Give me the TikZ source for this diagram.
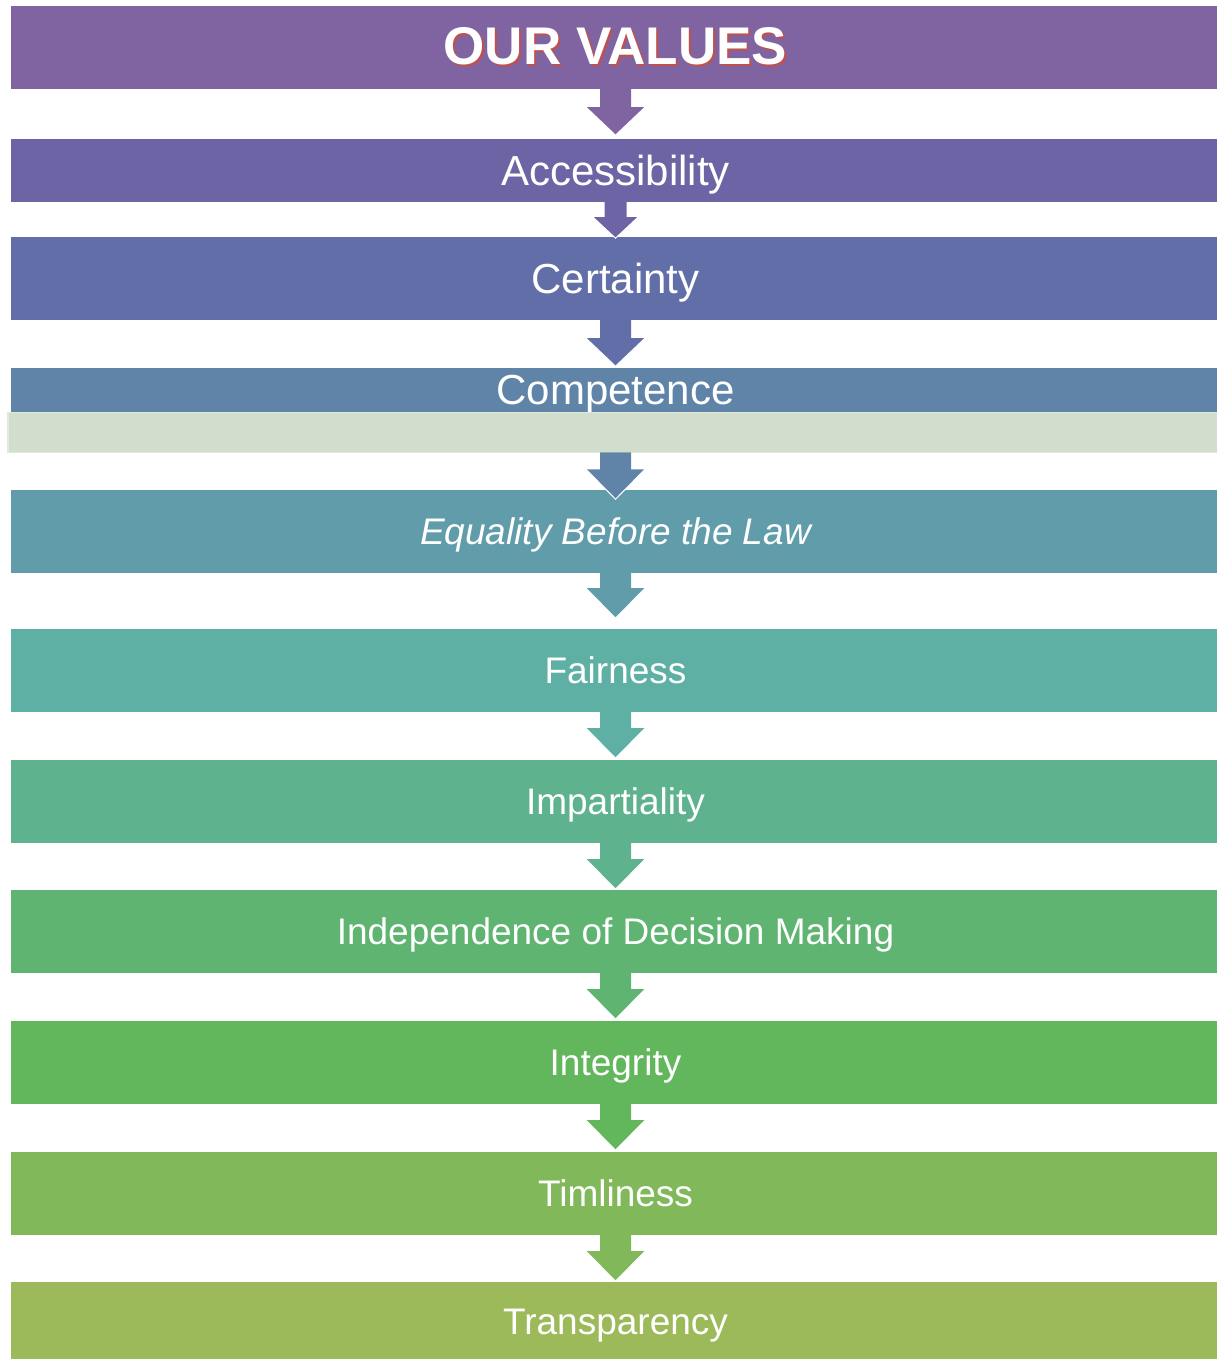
\documentclass[tikz,border=0pt]{standalone}
\usepackage{fontspec}
\setmainfont{Liberation Sans}
\usetikzlibrary{calc}
\definecolor{cT}{HTML}{8064A2}
\definecolor{cA}{HTML}{6C64A4}
\definecolor{cB}{HTML}{626EA8}
\definecolor{cC}{HTML}{6084A8}
\definecolor{cD}{HTML}{609CAA}
\definecolor{cE}{HTML}{5EB0A4}
\definecolor{cF}{HTML}{5EB28E}
\definecolor{cG}{HTML}{5EB470}
\definecolor{cH}{HTML}{62B65C}
\definecolor{cI}{HTML}{80B85A}
\definecolor{cJ}{HTML}{9CBA5A}
\definecolor{bandfill}{HTML}{D2DECD}
\definecolor{bandedge}{HTML}{E2EBDA}
\definecolor{shadowred}{HTML}{C0504D}
% #1 from node, #2 to node, #3 shaft width, #4 head width, #5 shaft length, #6 total length, #7 colour
\newcommand\myvarrow[7]{%
  \fill[#7] ($(#1.south)+({-#3/2},-1)$) -- ($(#1.south)+({-#3/2},#5)$)
    -- ($(#1.south)+({-#4/2},#5)$) -- ($(#1.south)+(0,#6)$)
    -- ($(#1.south)+({#4/2},#5)$) -- ($(#1.south)+({#3/2},#5)$)
    -- ($(#1.south)+({#3/2},-1)$) -- cycle;
  \draw[white, line width=1pt, line join=miter]
    ($(#1.south)+({-#4/2},#5)$) -- ($(#1.south)+(0,#6)$) -- ($(#1.south)+({#4/2},#5)$);
}
\tikzset{
  bar/.style={inner sep=0pt, minimum width=1209pt, text=white, text height=26.5pt, text depth=0pt,
    font=\fontsize{37}{44}\selectfont},
  bigbar/.style={bar, text height=30pt, font=\fontsize{42}{50}\selectfont},
  titletext/.style={inner sep=0pt, text height=38pt, text depth=0pt, font=\fontsize{53}{60}\selectfont\bfseries},
}
\begin{document}
\begin{tikzpicture}[x=1pt, y=-1pt]
\useasboundingbox (0,0) rectangle (1216,1359);
% bars
\node[bar, fill=cT, minimum height=83pt] (b0) at (615.5,47.5) {};
\node[titletext, text=shadowred] (t0s) at ($(b0.center)+(2,0.5)$) {OUR VALUES};
\node[titletext, text=white] (t0) at ($(b0.center)+(0,-1.5)$) {OUR VALUES};
\node[bigbar, fill=cA, minimum height=63pt] (b1) at (615.5,170.5) {Accessibility};
\node[bigbar, fill=cB, minimum height=83pt] (b2) at (615.5,278.5) {Certainty};
\node[bigbar, fill=cC, minimum height=44pt] (b3) at (615.5,389.5) {Competence};
\node[inner sep=0pt, fill=bandfill, draw=bandedge, line width=1.5pt, minimum width=1215pt, minimum height=40pt] (band) at (615.5,432.5) {};
\node[bar, fill=cD, minimum height=83pt] (b4) at (615.5,531.5) {\itshape Equality Before the Law};
\node[bar, fill=cE, minimum height=83pt] (b5) at (615.5,670.5) {Fairness};
\node[bar, fill=cF, minimum height=83pt] (b6) at (615.5,801.5) {Impartiality};
\node[bar, fill=cG, minimum height=83pt] (b7) at (615.5,931.5) {Independence of Decision Making};
\node[bar, fill=cH, minimum height=83pt] (b8) at (615.5,1062.5) {Integrity};
\node[bar, fill=cI, minimum height=83pt] (b9) at (615.5,1193.5) {Timliness};
\node[bar, fill=cJ, minimum height=78pt] (b10) at (615.5,1321) {Transparency};
% arrows
\myvarrow{b0}{b1}{31}{59}{18}{46}{cT}
\myvarrow{b1}{b2}{22}{45}{15}{36}{cA}
\myvarrow{b2}{b3}{31}{59}{18}{46}{cB}
\myvarrow{band}{b4}{31}{59}{16}{46}{cC}
\myvarrow{b4}{b5}{31}{59}{15}{45}{cD}
\myvarrow{b5}{b6}{31}{59}{16}{46}{cE}
\myvarrow{b6}{b7}{31}{59}{16}{46}{cF}
\myvarrow{b7}{b8}{31}{59}{16}{46}{cG}
\myvarrow{b8}{b9}{31}{59}{16}{46}{cH}
\myvarrow{b9}{b10}{31}{59}{16}{46}{cI}
\end{tikzpicture}
\end{document}
